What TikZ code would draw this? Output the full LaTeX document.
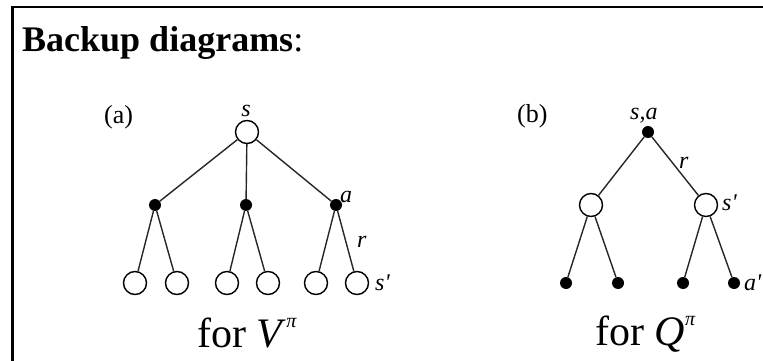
\documentclass[tikz,border=0pt]{standalone}
\usepackage{fontspec}
\setmainfont{Liberation Serif}
\usetikzlibrary{positioning}

\begin{document}
\begin{tikzpicture}[
  x=1pt,y=-1pt,
  state/.style={circle,draw,line width=1.4pt,fill=white,minimum size=23pt,inner sep=0pt},
  act/.style={circle,fill=black,minimum size=12pt,inner sep=0pt},
  edge/.style={line width=1.4pt,black!85},
  lbl/.style={font=\fontsize{24}{26}\selectfont\itshape,inner sep=0pt,anchor=base west},
  tag/.style={font=\fontsize{26}{28}\selectfont,inner sep=0pt,anchor=base west},
  fortext/.style={font=\fontsize{42}{44}\selectfont,inner sep=0pt,anchor=base west}
]
\useasboundingbox (0,0) rectangle (763,361);
\draw[line width=2.6pt] (12.5,361) -- (12.5,7) -- (763,7);
\node[anchor=base west,inner sep=0pt,font=\fontsize{36}{40}\selectfont] (title) at (22,52)
  {\textbf{Backup diagrams}:};

% (a) for V
\node[tag] (taga) at (104,123) {(a)};
\node[state] (s) at (247,132) {};
\node[act] (a1) at (155,205) {};
\node[act] (a2) at (246,205) {};
\node[act] (a3) at (336,205) {};
\node[state] (l1) at (135,283) {};
\node[state] (l2) at (177,283) {};
\node[state] (l3) at (227,283) {};
\node[state] (l4) at (268,283) {};
\node[state] (l5) at (316,283) {};
\node[state] (l6) at (357,283) {};
\draw[edge] (s) -- (a1);
\draw[edge] (s) -- (a2);
\draw[edge] (s) -- (a3);
\draw[edge] (a1) -- (l1);
\draw[edge] (a1) -- (l2);
\draw[edge] (a2) -- (l3);
\draw[edge] (a2) -- (l4);
\draw[edge] (a3) -- (l5);
\draw[edge] (a3) -- (l6);
\node[lbl,anchor=base] (sa) at (246,116) {s};
\node[lbl] (aa) at (340,202) {a};
\node[lbl] (ra) at (357,247) {r};
\node[lbl] (spa) at (375,290) {s\textquotesingle};
\node[fortext] (fora) at (197,347)
  {for \textit{V}\raisebox{20pt}{\fontsize{20}{22}\selectfont\itshape π}};

% (b) for Q
\node[tag] (tagb) at (517,122) {(b)};
\node[act] (q) at (648,132) {};
\node[state] (m1) at (591,205) {};
\node[state] (m2) at (706,205) {};
\node[act] (b1) at (566,283) {};
\node[act] (b2) at (618,283) {};
\node[act] (b3) at (683,283) {};
\node[act] (b4) at (734,283) {};
\draw[edge] (q) -- (m1);
\draw[edge] (q) -- (m2);
\draw[edge] (m1) -- (b1);
\draw[edge] (m1) -- (b2);
\draw[edge] (m2) -- (b3);
\draw[edge] (m2) -- (b4);
\node[lbl] (sab) at (630,119) {s,a};
\node[lbl] (rb) at (679,168) {r};
\node[lbl] (spb) at (722,210) {s\textquotesingle};
\node[lbl] (apb) at (744,290) {a\textquotesingle};
\node[fortext] (forb) at (595,345)
  {for \textit{Q}\raisebox{20pt}{\fontsize{20}{22}\selectfont\itshape π}};
\end{tikzpicture}
\end{document}
